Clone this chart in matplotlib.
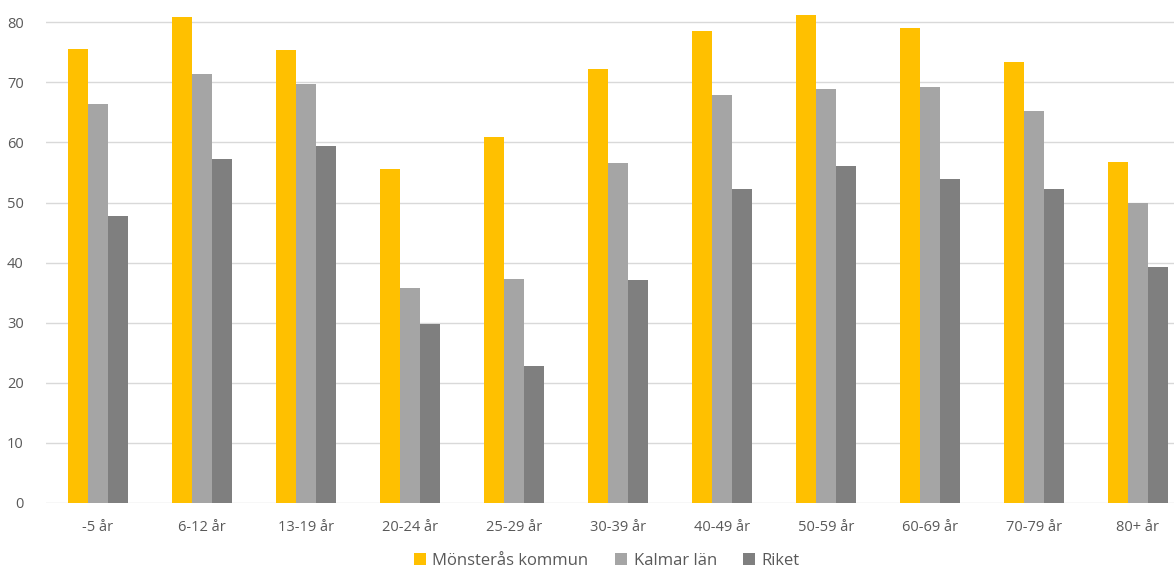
import matplotlib.pyplot as plt
import numpy as np

plt.rcParams['font.family'] = ['Open Sans', 'DejaVu Sans']

groups = ["-5 år", "6-12 år", "13-19 år", "20-24 år", "25-29 år", "30-39 år",
          "40-49 år", "50-59 år", "60-69 år", "70-79 år", "80+ år"]
monsteras = [75.5, 80.9, 75.4, 55.6, 60.9, 72.2, 78.5, 81.2, 79.0, 73.4, 56.7]
kalmar = [66.4, 71.4, 69.7, 35.8, 37.3, 56.6, 67.9, 68.9, 69.2, 65.2, 49.9]
riket = [47.8, 57.2, 59.4, 29.8, 22.8, 37.1, 52.2, 56.1, 53.9, 52.2, 39.3]

series = [("Mönsterås kommun", monsteras, "#FFC000"),
          ("Kalmar län", kalmar, "#A5A5A5"),
          ("Riket", riket, "#7F7F7F")]

W, H = 1174, 569
fig = plt.figure(figsize=(W / 100, H / 100), dpi=100)
ax = fig.add_axes([46 / W, 66 / H, 1144 / W, 503 / H])

x = np.arange(len(groups))
bw = 20 / 104
for i, (name, vals, col) in enumerate(series):
    ax.bar(x + (i - 1) * bw, vals, bw, color=col, label=name, zorder=3)

ax.set_xlim(-0.5, len(groups) - 0.5)
ax.set_ylim(0, 83.7)
ax.set_yticks(range(0, 81, 10))
ax.set_xticks(x)
ax.set_xticklabels(groups)
ax.yaxis.grid(True, color="#D9D9D9", linewidth=1, zorder=0)
ax.set_axisbelow(True)
for s in ax.spines.values():
    s.set_visible(False)
ax.tick_params(axis="both", length=0, colors="#595959", labelsize=10.5)
ax.tick_params(axis="x", pad=12)
ax.tick_params(axis="y", pad=16)

fig.legend(loc="center", bbox_to_anchor=(607 / W, 8 / H), ncol=3, frameon=False,
           fontsize=12, labelcolor="#595959", handlelength=0.7, handleheight=0.7,
           handletextpad=0.4, columnspacing=1.6)

fig.savefig("out.png", dpi=100)
